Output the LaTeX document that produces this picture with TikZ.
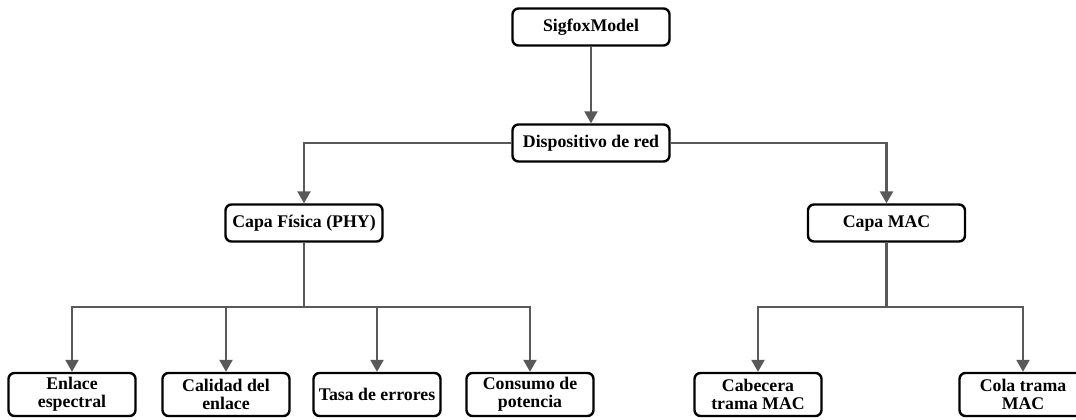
\documentclass[tikz,border=0pt]{standalone}
\usepackage{fontspec}
\setmainfont{Liberation Serif}
\usetikzlibrary{arrows.meta}
\definecolor{linegray}{HTML}{595959}
\tikzset{
  box/.style={draw=black, line width=1.2pt, rounded corners=3pt, fill=white,
    font=\fontsize{8.9}{9.2}\selectfont\bfseries, align=center, inner sep=1pt},
  midbox/.style={box, minimum width=78.5pt, minimum height=18.5pt},
  leafbox/.style={box, minimum width=63.5pt, minimum height=21.5pt},
  conn/.style={draw=linegray, line width=1.15pt},
  arr/.style={conn, -{Triangle[width=6.5pt,length=6pt]}}
}
\begin{document}
\begin{tikzpicture}[x=0.5pt,y=-0.5pt]
\useasboundingbox (0,0) rectangle (1076,419);
\node[midbox] (sig) at (591,27) {SigfoxModel};
\node[midbox] (dev) at (591,143) {Dispositivo de red};
\node[midbox] (phy) at (304,223) {Capa Física (PHY)};
\node[midbox] (mac) at (886.5,223) {Capa MAC};
\node[leafbox] (l1) at (72,394.5) {Enlace\\espectral};
\node[leafbox] (l2) at (226,394.5) {Calidad del\\enlace};
\node[leafbox] (l3) at (377,394.5) {Tasa de errores};
\node[leafbox] (l4) at (530,394.5) {Consumo de\\potencia};
\node[leafbox] (l5) at (758,394.5) {Cabecera\\trama MAC};
\node[leafbox] (l6) at (1023,394.5) {Cola trama\\MAC};
\coordinate (pj) at (304,307);
\coordinate (mj) at (886.5,307);
\draw[arr] (sig) -- (dev);
\draw[arr] (dev.west) -| (phy.north);
\draw[arr] (dev.east) -| (mac.north);
\draw[conn] (phy.south) -- (pj);
\draw[conn] (mac.south) -- (mj);
\draw[arr] (pj) -| (l1.north);
\draw[arr] (pj) -| (l2.north);
\draw[arr] (pj) -| (l3.north);
\draw[arr] (pj) -| (l4.north);
\draw[arr] (mj) -| (l5.north);
\draw[arr] (mj) -| (l6.north);
\end{tikzpicture}
\end{document}
